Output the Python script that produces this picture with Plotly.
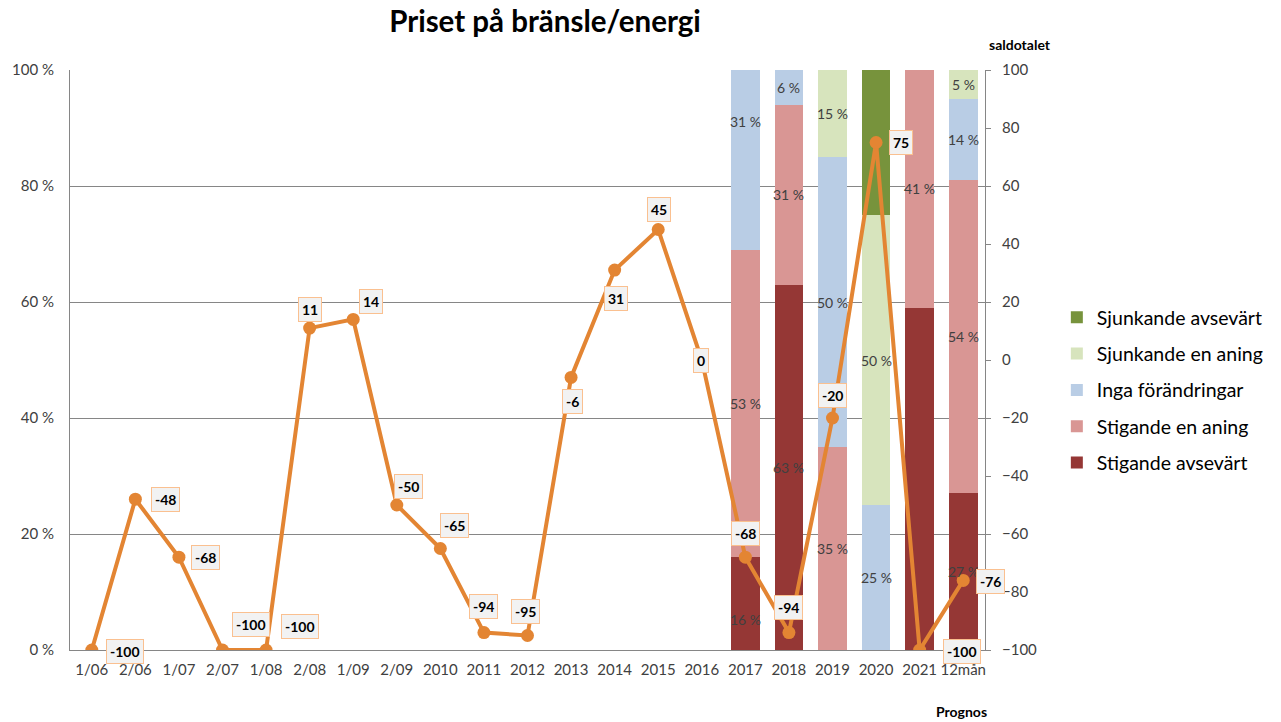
import plotly.graph_objects as go

# Survey periods on the x axis
categories = ["1/06", "2/06", "1/07", "2/07", "1/08", "2/08", "1/09", "2/09",
              "2010", "2011", "2012", "2013", "2014", "2015", "2016",
              "2017", "2018", "2019", "2020", "2021", "12mån"]

# Net balance (saldotalet), right axis
saldo = [-100, -48, -68, -100, -100, 11, 14, -50, -65, -94, -95,
         -6, 31, 45, 0, -68, -94, -20, 75, -100, -76]

# Answer distribution (%) for the later periods, left axis
bar_periods = ["2017", "2018", "2019", "2020", "2021", "12mån"]
stig_avs = [16, 63, 0, 0, 59, 27]
stig_aning = [53, 31, 35, 0, 41, 54]
inga = [31, 6, 50, 25, 0, 14]
sjunk_aning = [0, 0, 15, 50, 0, 5]
sjunk_avs = [0, 0, 0, 25, 0, 0]

series = [
    ("Stigande avsevärt", stig_avs, "#953735"),
    ("Stigande en aning", stig_aning, "#D99694"),
    ("Inga förändringar", inga, "#B9CDE5"),
    ("Sjunkande en aning", sjunk_aning, "#D7E4BD"),
    ("Sjunkande avsevärt", sjunk_avs, "#77933C"),
]

FONT = "Lato, 'Open Sans', sans-serif"
TXT = "#404040"
LINE = "#E38533"

# Segment labels that are left out, and labels nudged off their segment centre
hidden_labels = {("2020", "Sjunkande avsevärt"), ("2021", "Stigande avsevärt")}
label_nudge = {("2017", "Inga förändringar"): 38, ("2017", "Stigande avsevärt"): -16}

# Offsets (px) of the balance labels from their points
saldo_label_shift = [(33, -1), (30, 0), (27, 0), (28, 26), (34, 24), (0, 19), (18, 18),
                     (12, 19), (14, 23), (0, 26), (-2, 24), (1, -24), (1, -28), (1, 20),
                     (-1, 0), (0, 24), (0, 25), (0, 23), (25, 0), (42, -1), (27, -1)]

def cat_pos(c):
    # annotations on a category axis are placed by category index
    return categories.index(c)

fig = go.Figure()
annotations = []

base = [0] * len(bar_periods)
for k, (name, vals, color) in enumerate(series):
    fig.add_trace(go.Bar(
        x=bar_periods, y=vals, name=name, marker=dict(color=color, line=dict(width=0)),
        legendgroup=name, legendrank=len(series) - k, yaxis="y", hoverinfo="skip",
    ))
    for i, (p, v) in enumerate(zip(bar_periods, vals)):
        if v > 0 and (p, name) not in hidden_labels:
            annotations.append(dict(
                x=cat_pos(p), y=base[i] + v / 2, xref="x", yref="y", text=f"{v} %",
                showarrow=False, font=dict(family=FONT, size=14, color=TXT),
                yshift=label_nudge.get((p, name), 0),
            ))
        base[i] += v

fig.add_trace(go.Scatter(
    x=categories, y=saldo, yaxis="y2", mode="lines+markers",
    line=dict(color=LINE, width=4), marker=dict(color=LINE, size=13),
    showlegend=False, hoverinfo="skip",
))

for c, v, (dx, dy) in zip(categories, saldo, saldo_label_shift):
    annotations.append(dict(
        x=cat_pos(c), y=v, xref="x", yref="y2", text=f"<b>{v}</b>", showarrow=False,
        xshift=dx, yshift=dy, bgcolor="#F2F2F2", bordercolor="#FAC090", borderwidth=1,
        borderpad=3, font=dict(family=FONT, size=14, color="#000000"),
    ))

L, R, T, B = 68, 985, 70, 650

def px_x(x):
    return (x - L) / (R - L)

def px_y(y):
    return (B - y) / (B - T)

annotations += [
    dict(x=px_x(1020), y=px_y(44), xref="paper", yref="paper", text="<b>saldotalet</b>",
         xanchor="center", yanchor="middle", showarrow=False,
         font=dict(family=FONT, size=14, color="#000000")),
    dict(x=px_x(961), y=px_y(711), xref="paper", yref="paper", text="<b>Prognos</b>",
         xanchor="center", yanchor="middle", showarrow=False,
         font=dict(family=FONT, size=14, color="#000000")),
]

fig.update_layout(
    width=1281, height=722,
    margin=dict(l=L, r=1281 - R, t=T, b=722 - B),
    paper_bgcolor="white", plot_bgcolor="white",
    barmode="stack", bargap=0.34,
    title=dict(text="<b>Priset på bränsle/energi</b>", x=545 / 1281, xanchor="center",
               y=1 - 22 / 722, yanchor="middle",
               font=dict(family=FONT, size=29.5, color="#000000")),
    xaxis=dict(type="category", categoryorder="array", categoryarray=categories,
               range=[-0.5, len(categories) - 0.5],
               showline=True, linecolor="#868686", linewidth=1, ticks="",
               ticklabelstandoff=6,
               tickfont=dict(family=FONT, size=15, color=TXT), showgrid=False),
    yaxis=dict(range=[0, 100], tickvals=[0, 20, 40, 60, 80, 100],
               ticktext=["0 %", "20 %", "40 %", "60 %", "80 %", "100 %"],
               showline=True, linecolor="#868686", linewidth=1, ticks="",
               showgrid=True, gridcolor="#868686", gridwidth=1, zeroline=False,
               ticklabelstandoff=12, tickfont=dict(family=FONT, size=15, color=TXT)),
    yaxis2=dict(range=[-100, 100], dtick=20, overlaying="y", side="right",
                showline=True, linecolor="#868686", linewidth=1, ticks="outside",
                ticklen=5, tickcolor="#868686", showgrid=False, zeroline=False,
                ticklabelstandoff=8, tickfont=dict(family=FONT, size=15, color=TXT)),
    legend=dict(x=px_x(1057), y=px_y(298), xanchor="left", yanchor="top",
                traceorder="grouped", tracegroupgap=8,
                font=dict(family=FONT, size=19.5, color="#000000")),
    annotations=annotations,
)

fig.write_html("out.html")
